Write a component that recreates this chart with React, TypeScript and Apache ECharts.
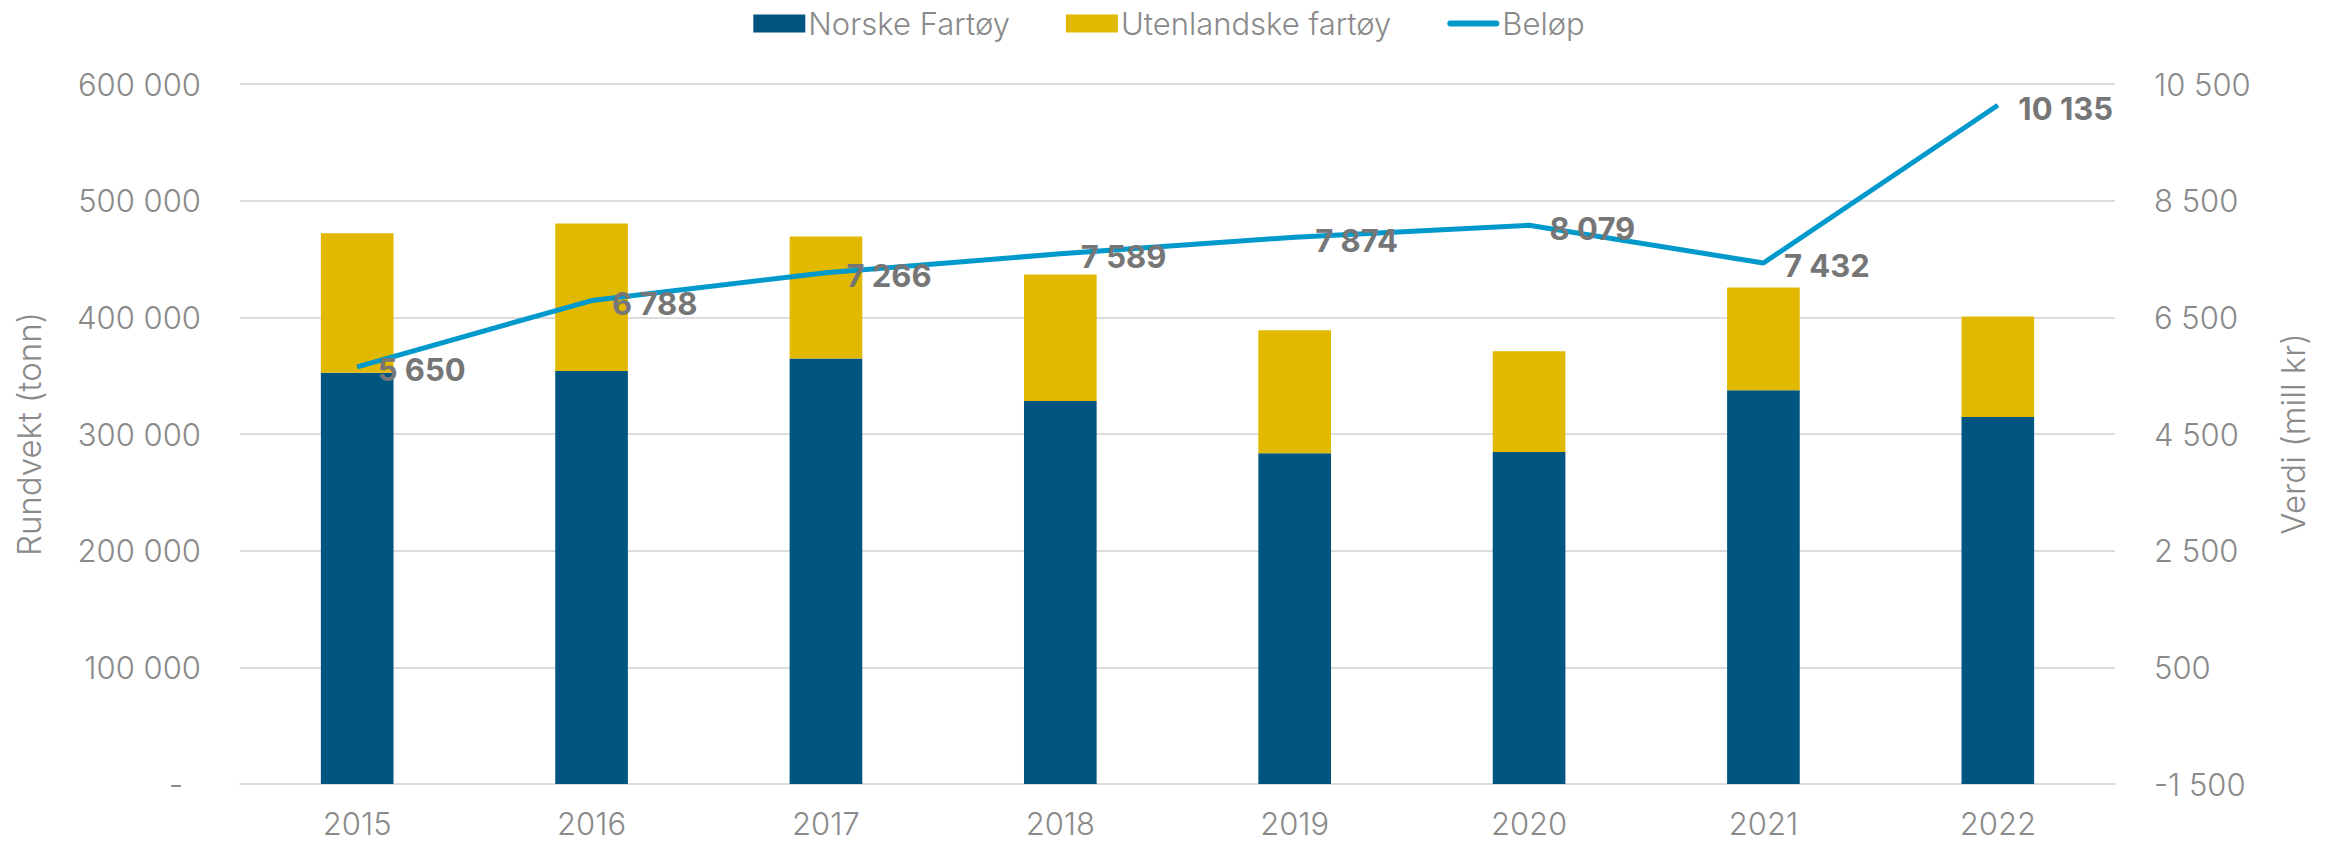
import React, { useEffect, useRef } from "react";
import * as echarts from "echarts";

const categories = ["2015", "2016", "2017", "2018", "2019", "2020", "2021", "2022"];
const norske = [352500, 354000, 364800, 328300, 283400, 284500, 337600, 314500];
const utenlandskeTotal = [472000, 480500, 469300, 436800, 389000, 371000, 425600, 400700];
const utenlandske = utenlandskeTotal.map((t, i) => t - norske[i]);
const belop = [5650, 6788, 7266, 7589, 7874, 8079, 7432, 10135];

const FONT = "Inter";
const GREY = "#8a8a8a";
const GRID = "#dcdcdc";

const fmt = (n: number) => String(n).replace(/\B(?=(\d{3})+(?!\d))/g, " ");

export default function App() {
  const ref = useRef<HTMLDivElement>(null);
  useEffect(() => {
    if (!ref.current) return;
    const chart = echarts.init(ref.current, undefined, { renderer: "svg" });
    chart.setOption({
      animation: false,
      backgroundColor: "#ffffff",
      textStyle: { fontFamily: FONT },
      legend: {
        top: 3,
        left: "center",
        itemWidth: 52,
        itemHeight: 18,
        itemGap: 56,
        textStyle: { fontFamily: FONT, fontSize: 31, fontWeight: 300, color: GREY, padding: [0, 0, 0, -2] },
        data: [
          { name: "Norske Fartøy", icon: "rect" },
          { name: "Utenlandske fartøy", icon: "rect" },
          { name: "Beløp", icon: "path://M3,0 L49,0 A3,3 0 0 1 49,6 L3,6 A3,3 0 0 1 3,0 Z" },
        ],
      },
      grid: { left: 240, right: 223, top: 84, bottom: 57, containLabel: false, outerBoundsMode: "none" },
      xAxis: {
        type: "category",
        data: categories,
        axisTick: { show: false },
        axisLine: { show: true, lineStyle: { color: GRID, width: 2 } },
        axisLabel: { fontFamily: FONT, fontSize: 31, fontWeight: 300, color: GREY, margin: 24 },
      },
      yAxis: [
        {
          type: "value",
          min: 0,
          max: 600000,
          interval: 100000,
          name: "Rundvekt (tonn)",
          nameLocation: "middle",
          nameRotate: 90,
          nameGap: 195,
          nameTextStyle: { fontFamily: FONT, fontSize: 33, fontWeight: 300, color: GREY },
          axisLine: { show: false },
          axisTick: { show: false },
          splitLine: { show: true, lineStyle: { color: GRID, width: 2 } },
          axisLabel: {
            fontFamily: FONT,
            fontSize: 31,
            fontWeight: 300,
            color: GREY,
            margin: 39,
            formatter: (v: number) => (v === 0 ? "{d|-}" : fmt(v)),
            rich: { d: { fontFamily: FONT, fontSize: 31, fontWeight: 300, color: GREY, padding: [0, 18, 0, 0] } },
          },
        },
        {
          type: "value",
          min: -1500,
          max: 10500,
          interval: 2000,
          position: "right",
          name: "Verdi (mill kr)",
          nameLocation: "middle",
          nameRotate: 90,
          nameGap: 161,
          nameTextStyle: { fontFamily: FONT, fontSize: 33, fontWeight: 300, color: GREY },
          axisLine: { show: false },
          axisTick: { show: false },
          splitLine: { show: false },
          axisLabel: {
            fontFamily: FONT,
            fontSize: 31,
            fontWeight: 300,
            color: GREY,
            margin: 39,
            formatter: (v: number) => fmt(v),
          },
        },
      ],
      series: [
        {
          name: "Norske Fartøy",
          type: "bar",
          stack: "total",
          data: norske,
          barWidth: "31%",
          itemStyle: { color: "#005581" },
        },
        {
          name: "Utenlandske fartøy",
          type: "bar",
          stack: "total",
          data: utenlandske,
          barWidth: "31%",
          itemStyle: { color: "#E1B900" },
        },
        {
          name: "Beløp",
          type: "line",
          yAxisIndex: 1,
          data: belop,
          symbol: "circle",
          symbolSize: 1,
          z: 5,
          lineStyle: { color: "#0099CC", width: 5 },
          itemStyle: { color: "#0099CC" },
          label: {
            show: true,
            position: "right",
            distance: 20,
            offset: [0, 3],
            fontFamily: FONT,
            fontSize: 31,
            fontWeight: 700,
            color: "#767676",
            formatter: (p: any) => fmt(p.value),
          },
        },
      ],
    });
    return () => chart.dispose();
  }, []);
  return <div ref={ref} style={{ position: "fixed", left: 0, top: 0, width: 2338, height: 841 }} />;
}
